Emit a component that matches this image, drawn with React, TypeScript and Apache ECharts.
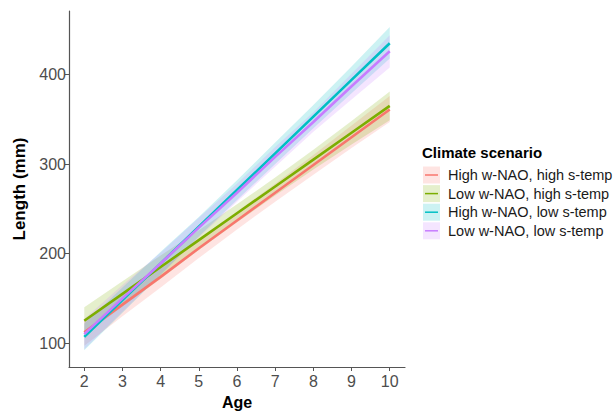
import React, { useEffect, useRef } from "react";
import * as echarts from "echarts";

const ages = [2, 3, 4, 5, 6, 7, 8, 9, 10];
const xTicks = [2, 3, 4, 5, 6, 7, 8, 9, 10];
const yTicks = [100, 200, 300, 400];

const scenarioNames = [
  "High w-NAO, high s-temp",
  "Low w-NAO, high s-temp",
  "High w-NAO, low s-temp",
  "Low w-NAO, low s-temp",
];
const scenarioColors = ["#F8766D", "#7CAE00", "#00BFC4", "#C77CFF"];

const fitHighHigh = [112, 143, 174, 206, 237, 268, 299, 330, 361];
const fitLowHigh = [125, 155, 185, 215, 245, 275, 305, 335, 365];
const fitHighLow = [107, 148, 189, 230, 271, 312, 353, 394, 435];
const fitLowLow = [110, 150, 189, 229, 268, 308, 347, 387, 426];

const lowHighHigh = [97, 130, 162, 195, 227, 258, 288, 318, 347];
const upHighHigh = [127, 156, 186, 217, 247, 278, 310, 343, 376];
const lowLowHigh = [110, 141, 172, 204, 235, 265, 294, 322, 349];
const upLowHigh = [140, 169, 198, 226, 255, 285, 316, 348, 381];
const lowHighLow = [92, 134, 176, 219, 260, 300, 340, 379, 418];
const upHighLow = [122, 162, 202, 241, 282, 324, 366, 409, 453];
const lowLowLow = [93, 135, 177, 218, 258, 297, 336, 372, 408];
const upLowLow = [127, 165, 201, 240, 278, 319, 358, 401, 444];

const fits = [fitHighHigh, fitLowHigh, fitHighLow, fitLowLow];
const lows = [lowHighHigh, lowLowHigh, lowHighLow, lowLowLow];
const ups = [upHighHigh, upLowHigh, upHighLow, upLowLow];

const FONT = "Liberation Sans, Arial, Helvetica, sans-serif";

function hexToRgba(hex: string, a: number) {
  const r = parseInt(hex.slice(1, 3), 16);
  const g = parseInt(hex.slice(3, 5), 16);
  const b = parseInt(hex.slice(5, 7), 16);
  return `rgba(${r},${g},${b},${a})`;
}

export default function App() {
  const ref = useRef<HTMLDivElement>(null);
  useEffect(() => {
    if (!ref.current) return;
    const chart = echarts.init(ref.current, undefined, { renderer: "svg" });
    const series: any[] = [];
    scenarioNames.forEach((name, i) => {
      const bandData = ages.map((a, k) => [a, lows[i][k], ups[i][k]]);
      series.push({
        name: name + " band",
        type: "custom",
        silent: true,
        z: 1,
        data: bandData,
        encode: { x: 0, y: [1, 2] },
        renderItem: (params: any, api: any) => {
          if (params.dataIndex !== 0) return null;
          const upper = bandData.map((d) => api.coord([d[0], d[2]]));
          const lower = bandData.map((d) => api.coord([d[0], d[1]])).reverse();
          return {
            type: "polygon",
            shape: { points: upper.concat(lower) },
            style: { fill: hexToRgba(scenarioColors[i], 0.2) },
          };
        },
      });
    });
    scenarioNames.forEach((name, i) => {
      series.push({
        name,
        type: "line",
        data: ages.map((a, k) => [a, fits[i][k]]),
        symbol: "none",
        lineStyle: { color: scenarioColors[i], width: 2.6 },
        z: 3,
      });
    });

    const legendGraphics: any[] = [
      {
        type: "text",
        x: 422,
        y: 152,
        style: {
          text: "Climate scenario",
          font: `bold 15px ${FONT}`,
          fill: "#000",
          textVerticalAlign: "middle",
        },
      },
    ];
    scenarioNames.forEach((name, i) => {
      const cy = 175 + i * 18.6;
      legendGraphics.push({
        type: "rect",
        shape: { x: 423, y: cy - 8.5, width: 17, height: 17 },
        style: { fill: hexToRgba(scenarioColors[i], 0.2) },
      });
      legendGraphics.push({
        type: "line",
        shape: { x1: 425, y1: cy, x2: 438, y2: cy },
        style: { stroke: scenarioColors[i], lineWidth: 1.5 },
      });
      legendGraphics.push({
        type: "text",
        x: 448,
        y: cy,
        style: {
          text: name,
          font: `14.5px ${FONT}`,
          fill: "#1a1a1a",
          textVerticalAlign: "middle",
        },
      });
    });

    chart.setOption({
      animation: false,
      backgroundColor: "#fff",
      grid: { left: 69, top: 11, right: 211, bottom: 45, containLabel: false },
      xAxis: {
        type: "value",
        min: 1.6,
        max: 10.4,
        name: "Age",
        nameLocation: "middle",
        nameGap: 27,
        nameTextStyle: { fontFamily: FONT, fontWeight: "bold", fontSize: 16, color: "#000" },
        axisLine: { show: true, lineStyle: { color: "#555", width: 1.2 } },
        axisTick: { show: true, customValues: xTicks, length: 4, lineStyle: { color: "#555" } },
        axisLabel: {
          customValues: xTicks,
          fontFamily: FONT,
          fontSize: 16,
          color: "#4D4D4D",
          margin: 6,
        },
        splitLine: { show: false },
      },
      yAxis: {
        type: "value",
        min: 73.3,
        max: 471,
        name: "Length (mm)",
        nameLocation: "middle",
        nameGap: 38,
        nameRotate: 90,
        nameTextStyle: { fontFamily: FONT, fontWeight: "bold", fontSize: 17, color: "#000" },
        axisLine: { show: true, lineStyle: { color: "#555", width: 1.2 } },
        axisTick: { show: true, customValues: yTicks, length: 4, lineStyle: { color: "#555" } },
        axisLabel: {
          customValues: yTicks,
          fontFamily: FONT,
          fontSize: 16,
          color: "#4D4D4D",
          margin: 3,
        },
        splitLine: { show: false },
      },
      series,
      graphic: legendGraphics,
    });
    return () => chart.dispose();
  }, []);
  return <div ref={ref} style={{ width: 616, height: 415, position: "absolute", left: 0, top: 0 }} />;
}
